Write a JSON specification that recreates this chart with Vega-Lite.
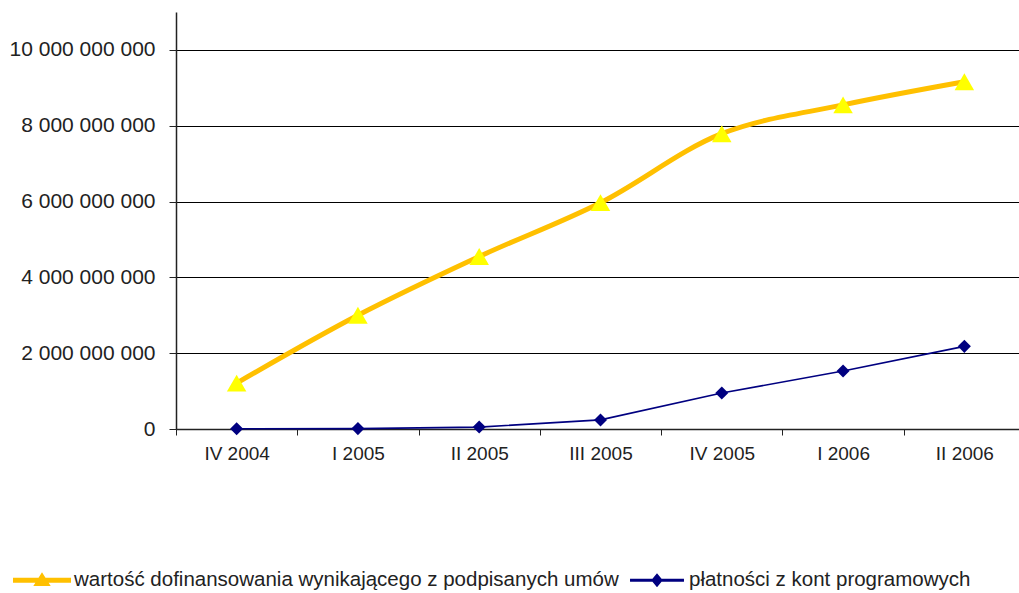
{
  "$schema": "https://vega.github.io/schema/vega-lite/v6.json",
  "autosize": "none",
  "width": 849,
  "height": 417,
  "padding": {"left": 176, "top": 12, "right": 0, "bottom": 164},
  "background": "white",
  "config": {
    "view": {"stroke": null},
    "font": "Liberation Sans",
    "axis": {"labelFont": "Liberation Sans", "labelColor": "#222", "domainColor": "#222", "tickColor": "#222"}
  },
  "data": {
    "values": [
      {"okres": "IV 2004", "seria": "wartość dofinansowania wynikającego z podpisanych umów", "wartosc": 1210000000},
      {"okres": "I 2005", "seria": "wartość dofinansowania wynikającego z podpisanych umów", "wartosc": 3000000000},
      {"okres": "II 2005", "seria": "wartość dofinansowania wynikającego z podpisanych umów", "wartosc": 4550000000},
      {"okres": "III 2005", "seria": "wartość dofinansowania wynikającego z podpisanych umów", "wartosc": 5970000000},
      {"okres": "IV 2005", "seria": "wartość dofinansowania wynikającego z podpisanych umów", "wartosc": 7790000000},
      {"okres": "I 2006", "seria": "wartość dofinansowania wynikającego z podpisanych umów", "wartosc": 8550000000},
      {"okres": "II 2006", "seria": "wartość dofinansowania wynikającego z podpisanych umów", "wartosc": 9160000000},
      {"okres": "IV 2004", "seria": "płatności z kont programowych", "wartosc": 5000000},
      {"okres": "I 2005", "seria": "płatności z kont programowych", "wartosc": 10000000},
      {"okres": "II 2005", "seria": "płatności z kont programowych", "wartosc": 50000000},
      {"okres": "III 2005", "seria": "płatności z kont programowych", "wartosc": 240000000},
      {"okres": "IV 2005", "seria": "płatności z kont programowych", "wartosc": 950000000},
      {"okres": "I 2006", "seria": "płatności z kont programowych", "wartosc": 1530000000},
      {"okres": "II 2006", "seria": "płatności z kont programowych", "wartosc": 2180000000}
    ]
  },
  "encoding": {
    "x": {
      "field": "okres", "type": "nominal", "sort": null,
      "scale": {"type": "band", "paddingInner": 0, "paddingOuter": 0},
      "axis": {"title": null, "labelAngle": 0, "labelFontSize": 19, "tickBand": "extent", "tickSize": 6, "labelPadding": 9, "grid": false, "domainWidth": 1.5}
    },
    "y": {
      "field": "wartosc", "type": "quantitative",
      "scale": {"domain": [0, 11000000000], "nice": false},
      "axis": {"title": null, "values": [0, 2000000000, 4000000000, 6000000000, 8000000000, 10000000000], "labelExpr": "replace(format(datum.value, ','), /,/g, ' ')", "labelFontSize": 21, "tickSize": 7, "labelPadding": 14, "grid": true, "gridColor": "#000", "gridOpacity": 1, "gridWidth": 1, "domainWidth": 1.5}
    }
  },
  "layer": [
    {
      "transform": [{"filter": "datum.seria !== 'płatności z kont programowych'"}],
      "mark": {"type": "line", "interpolate": "catmull-rom", "strokeWidth": 5},
      "encoding": {
        "color": {
          "field": "seria", "type": "nominal",
          "scale": {"domain": ["wartość dofinansowania wynikającego z podpisanych umów", "płatności z kont programowych"], "range": ["#FFC000", "#000080"]},
          "legend": {
            "title": null, "orient": "none", "direction": "horizontal",
            "legendX": -163, "legendY": 539,
            "values": ["wartość dofinansowania wynikającego z podpisanych umów", "płatności z kont programowych"],
            "symbolSize": 3364, "labelFontSize": 20.5, "labelFont": "Liberation Sans", "labelColor": "#222",
            "labelLimit": 2000, "labelOffset": 3, "columnPadding": 9,
            "encode": {
              "symbols": {
                "update": {
                  "shape": {"signal": "datum.value === 'płatności z kont programowych' ? 'M-0.93,-0.05H0.93V0.05H-0.93Z M0,-0.24L0.2,0L0,0.24L-0.2,0Z' : 'M-1,-0.085H1V0.085H-1Z M0,-0.28L0.3,0.2H-0.3Z'"},
                  "fill": {"signal": "datum.value === 'płatności z kont programowych' ? '#000080' : '#FFC000'"},
                  "stroke": {"value": "transparent"},
                  "strokeWidth": {"value": 0},
                  "opacity": {"value": 1}
                }
              }
            }
          }
        }
      }
    },
    {
      "transform": [{"filter": "datum.seria === 'płatności z kont programowych'"}],
      "mark": {"type": "line", "interpolate": "linear", "strokeWidth": 1.6},
      "encoding": {
        "color": {"field": "seria", "type": "nominal"}
      }
    },
    {
      "transform": [{"filter": "datum.seria !== 'płatności z kont programowych'"}],
      "mark": {"type": "point", "filled": true, "opacity": 1, "shape": "triangle-up", "color": "#FFFF00", "size": 380},
      "encoding": {}
    },
    {
      "transform": [{"filter": "datum.seria === 'płatności z kont programowych'"}],
      "mark": {"type": "point", "filled": true, "opacity": 1, "shape": "diamond", "color": "#000080", "size": 170},
      "encoding": {}
    }
  ]
}
